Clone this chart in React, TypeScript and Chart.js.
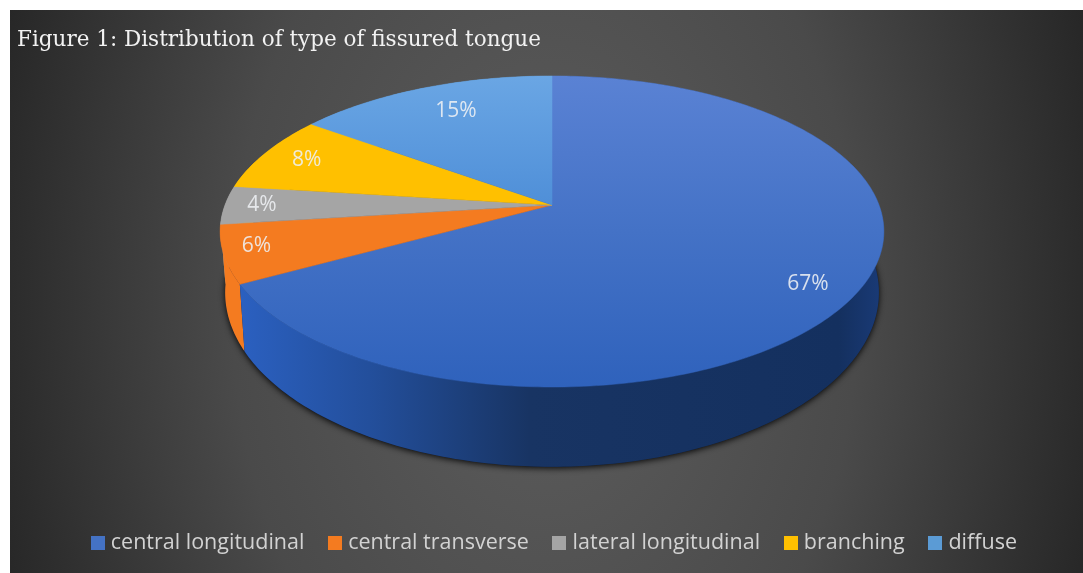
import { useEffect, useRef } from "react";
import { Chart, registerables } from "chart.js";

Chart.register(...registerables);

const categories = ["central longitudinal", "central transverse", "lateral longitudinal", "branching", "diffuse"];
const shares = [67, 6, 4, 8, 15];
const sliceColors = ["#4472c4", "#f47b20", "#a5a5a5", "#ffc000", "#5b9bd5"];
const chartTitle = "Figure 1: Distribution of type of fissured tongue";

// Perspective view of the pie disc: centre, half-axes and foreshortening.
const VIEW = { cx: 552, cy: 205, fx: 327, fy: 151, k: 0.1704, depth: 58, baseScale: 0.985 };

function project(angle: number, r = 1) {
  const theta = angle + Math.PI / 2;
  const w = 1 + VIEW.k * r * Math.cos(theta);
  return {
    x: VIEW.cx + (VIEW.fx * r * Math.sin(theta)) / w,
    y: VIEW.cy - (VIEW.fy * r * Math.cos(theta)) / w,
    w,
  };
}

function projectBase(angle: number) {
  const p = project(angle);
  return {
    x: VIEW.cx + (p.x - VIEW.cx) * VIEW.baseScale,
    y: p.y + VIEW.depth / Math.pow(p.w, 1.7),
  };
}

function anglesBetween(a: number, b: number) {
  const n = Math.max(2, Math.ceil(Math.abs(b - a) * 60));
  return Array.from({ length: n + 1 }, (_, i) => a + ((b - a) * i) / n);
}

function traceSilhouette(ctx: CanvasRenderingContext2D) {
  ctx.beginPath();
  anglesBetween(0, Math.PI * 2).forEach((a) => {
    const p = projectBase(a);
    ctx.lineTo(p.x, p.y);
  });
  ctx.closePath();
}

// Solid square used as a legend key, drawn wider than its reserved slot.
function legendSwatch(color: string) {
  const c = document.createElement("canvas");
  c.width = 14;
  c.height = 14;
  const g = c.getContext("2d")!;
  g.fillStyle = color;
  g.fillRect(0, 0, 14, 14);
  return c;
}

const frameAndBackdrop = {
  id: "frameAndBackdrop",
  beforeDraw(chart: Chart) {
    const { ctx, width, height } = chart;
    ctx.save();
    ctx.fillStyle = "#ffffff";
    ctx.fillRect(0, 0, width, height);
    ctx.beginPath();
    ctx.rect(10, 10, width - 10, height - 10);
    ctx.clip();
    ctx.translate(545, 300);
    ctx.scale(1, 1.5);
    const g = ctx.createRadialGradient(0, 0, 0, 0, 0, 570);
    g.addColorStop(0, "#5e5e5e");
    g.addColorStop(0.55, "#4a4a4a");
    g.addColorStop(1, "#272727");
    ctx.fillStyle = g;
    ctx.fillRect(-600, -300, 1200, 500);
    ctx.restore();
  },
};

const tiltedPie = {
  id: "tiltedPie",
  beforeDatasetDraw(chart: Chart) {
    const { ctx } = chart;
    const arcs = chart.getDatasetMeta(0).data as any[];
    const colors = chart.data.datasets[0].backgroundColor as string[];

    ctx.save();
    // Soft contact shadow under the rim.
    ctx.save();
    ctx.shadowColor = "rgba(0,0,0,0.9)";
    ctx.shadowBlur = 6;
    ctx.shadowOffsetY = 1.5;
    ctx.fillStyle = "#10244a";
    traceSilhouette(ctx);
    ctx.fill();
    ctx.restore();

    // Side wall of each slice, far slices first; the top faces cover the rest.
    const wallBlue = ctx.createLinearGradient(240, 0, 884, 0);
    wallBlue.addColorStop(0, "#2b60c0");
    wallBlue.addColorStop(0.2, "#234f9c");
    wallBlue.addColorStop(0.45, "#183463");
    wallBlue.addColorStop(0.93, "#14305f");
    wallBlue.addColorStop(1, "#1a3b78");
    [...arcs].reverse().forEach((arc) => {
      const i = arcs.indexOf(arc);
      const top = anglesBetween(arc.startAngle, arc.endAngle);
      ctx.beginPath();
      top.forEach((a) => {
        const p = project(a);
        ctx.lineTo(p.x, p.y);
      });
      [...top].reverse().forEach((a) => {
        const p = projectBase(a);
        ctx.lineTo(p.x, p.y);
      });
      ctx.closePath();
      ctx.fillStyle = i === 0 ? wallBlue : colors[i];
      ctx.fill();
    });

    // Top faces, lit a little from the far edge.
    arcs.forEach((arc, i) => {
      ctx.beginPath();
      ctx.moveTo(VIEW.cx, VIEW.cy);
      anglesBetween(arc.startAngle, arc.endAngle).forEach((a) => {
        const p = project(a);
        ctx.lineTo(p.x, p.y);
      });
      ctx.closePath();
      let fill: string | CanvasGradient = colors[i];
      if (i === 0) {
        const g = ctx.createLinearGradient(0, 76, 0, 387);
        g.addColorStop(0, "#5a82d4");
        g.addColorStop(0.5, "#4472c6");
        g.addColorStop(1, "#2f62bc");
        fill = g;
      } else if (i === 4) {
        const g = ctx.createLinearGradient(0, 76, 0, 205);
        g.addColorStop(0, "#6aa6e4");
        g.addColorStop(1, "#4f8fd8");
        fill = g;
      }
      ctx.fillStyle = fill;
      ctx.fill();
      ctx.strokeStyle = fill;
      ctx.lineWidth = 0.5;
      ctx.stroke();
    });

    // Percentage labels on the top faces: radius and small angular nudge per slice.
    const radii = [0.864, 0.902, 0.887, 0.85, 0.769];
    const nudges = [0.054, 0.025, 0, 0, 0.03];
    ctx.font = '21px "Open Sans"';
    ctx.textAlign = "center";
    ctx.textBaseline = "middle";
    ctx.fillStyle = "rgba(238,240,244,0.88)";
    arcs.forEach((arc, i) => {
      const p = project((arc.startAngle + arc.endAngle) / 2 + nudges[i], radii[i]);
      ctx.fillText(`${shares[i]}%`, p.x, p.y);
    });
    ctx.restore();
    return false;
  },
};

export default function App() {
  const ref = useRef<HTMLCanvasElement>(null);

  useEffect(() => {
    if (!ref.current) return;
    const chart = new Chart(ref.current, {
      type: "pie",
      data: {
        labels: categories,
        datasets: [{ data: shares, backgroundColor: sliceColors, borderWidth: 0 }],
      },
      options: {
        animation: false,
        responsive: false,
        layout: { padding: { left: 17, right: -12, top: 0, bottom: 9 } },
        plugins: {
          title: {
            display: true,
            text: chartTitle,
            align: "start",
            color: "#f2f2f2",
            font: { family: '"DejaVu Serif"', size: 21.5, weight: "normal" },
            padding: { top: 28, bottom: 10 },
          },
          legend: {
            position: "bottom",
            labels: {
              color: "#d2d2d2",
              font: { family: '"Open Sans"', size: 21.5 },
              usePointStyle: true,
              pointStyleWidth: 5,
              boxHeight: 13,
              padding: 28,
              generateLabels: (c: Chart) =>
                (Chart as any).overrides.doughnut.plugins.legend.labels
                  .generateLabels(c)
                  .map((item: any, i: number) => ({ ...item, pointStyle: legendSwatch(sliceColors[i]) })),
            },
          },
          tooltip: { enabled: false },
        },
      },
      plugins: [frameAndBackdrop, tiltedPie],
    });
    return () => chart.destroy();
  }, []);

  return (
    <canvas
      ref={ref}
      width={1083}
      height={573}
      style={{ position: "absolute", left: 0, top: 0, display: "block" }}
    />
  );
}
